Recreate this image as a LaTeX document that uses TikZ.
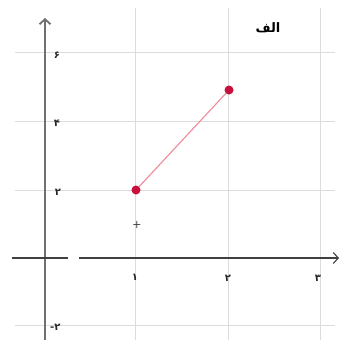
\documentclass[tikz,border=0pt]{standalone}
\usepackage{fontspec}
\newfontfamily\arabicfont[Script=Arabic]{DejaVu Sans}
\TeXXeTstate=1
\usetikzlibrary{arrows.meta}
\definecolor{ptred}{HTML}{C8103A}
\definecolor{segred}{HTML}{F08A98}
\definecolor{gridc}{HTML}{DCDCDC}
\definecolor{axisc}{HTML}{707070}
\tikzset{
  gridline/.style={gridc, line width=0.8pt},
  axisline/.style={axisc, line width=1.8pt},
  xaxisline/.style={black!75, line width=1.1pt},
  lab/.style={font=\arabicfont\bfseries\fontsize{10}{10}\selectfont, inner sep=0pt, text=black!85},
  pt/.style={circle, fill=ptred, inner sep=0pt, minimum size=9pt},
}
\begin{document}
\begin{tikzpicture}[x=1pt,y=-1pt]
\useasboundingbox[fill=white] (0,0) rectangle (344,340);
% grid
\foreach \gx in {135,228,320} \draw[gridline] (\gx,8) -- (\gx,340);
\foreach \gy in {52,121,190,325} \draw[gridline] (15,\gy) -- (335,\gy);
% axes
\coordinate (yb) at (45,340);
\coordinate (yt) at (45,18);
\draw[axisline,-{Straight Barb[length=5pt,width=11pt]}] (yb) -- (yt);
\coordinate (xl) at (12,258);
\coordinate (xg1) at (68,258);
\coordinate (xg2) at (79,258);
\coordinate (xr) at (339,258);
\draw[xaxisline] (xl) -- (xg1);
\draw[xaxisline,-{Straight Barb[length=5pt,width=11pt]}] (xg2) -- (xr);
% y labels
\node[lab] (y6) at (57,55) {۶};
\node[lab] (y4) at (57,123) {۴};
\node[lab] (y2) at (58,192) {۲};
\node[lab,anchor=west] (ym2) at (50,327) {\beginR ۲-\endR};
% x labels
\node[lab] (x1) at (135,277) {۱};
\node[lab] (x2) at (228,278) {۲};
\node[lab] (x3) at (318,278) {۳};
% tick mark at y=1
\node[font=\sffamily\bfseries, inner sep=0pt, text=black!80] (tk) at (137,225) {+};
% segment
\node[pt] (A) at (136,190) {};
\node[pt] (B) at (229,90) {};
\draw[segred, line width=1.1pt] (A) -- (B);
% title
\node[font=\arabicfont\bfseries\fontsize{13}{13}\selectfont, inner sep=0pt] (title) at (268,28) {\beginR الف\endR};
\end{tikzpicture}
\end{document}
